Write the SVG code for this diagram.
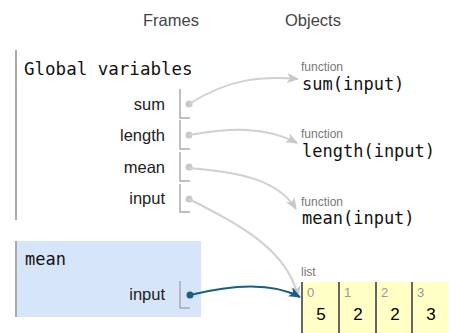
<svg xmlns="http://www.w3.org/2000/svg" width="451" height="333" viewBox="0 0 451 333">
<style>
.hdr{font-family:"Liberation Sans",Arial,sans-serif;font-size:16.5px;fill:#444}
.mono{font-family:"DejaVu Sans Mono",monospace;font-size:17px;fill:#111}
.var{font-family:"Liberation Sans",Arial,sans-serif;font-size:16.5px;fill:#222;text-anchor:end}
.small{font-family:"Liberation Sans",Arial,sans-serif;font-size:12px;fill:#777}
.idx{font-family:"Liberation Sans",Arial,sans-serif;font-size:13px;fill:#999}
.val{font-family:"Liberation Sans",Arial,sans-serif;font-size:17px;fill:#000;text-anchor:middle}
.box{fill:none;stroke:#aaa;stroke-width:1.5}
.flb{stroke:#aaa;stroke-width:2}
.dot{fill:#c8c8c8}
.gl{fill:none;stroke:#d0d0d0;stroke-width:2}
.bl{fill:none;stroke:#1a5e85;stroke-width:2}
.cell{fill:#ffffc6}
.cb{stroke:#666;stroke-width:2}
</style>
<defs>
<marker id="ag" markerWidth="12" markerHeight="10" refX="11" refY="5" orient="auto" markerUnits="userSpaceOnUse">
<path d="M0,0 L12,5 L0,10 L3,5 z" fill="#c8c8c8"/>
</marker>
<marker id="ab" markerWidth="12" markerHeight="10" refX="11" refY="5" orient="auto" markerUnits="userSpaceOnUse">
<path d="M0,0 L12,5 L0,10 L3,5 z" fill="#1a5e85"/>
</marker>
</defs>
<text class="hdr" x="143" y="26">Frames</text>
<text class="hdr" x="285" y="26">Objects</text>

<g id="global-frame">
<line class="flb" x1="16" y1="50" x2="16" y2="220"/>
<text class="mono" x="24" y="75" style="font-size:17.5px">Global variables</text>
<text class="var" x="165" y="110">sum</text>
<path class="box" d="M180,89 V118 H190"/>
<circle class="dot" cx="189" cy="104" r="3.5"/>
<text class="var" x="165" y="141">length</text>
<path class="box" d="M180,120 V149 H190"/>
<circle class="dot" cx="189" cy="135" r="3.5"/>
<text class="var" x="165" y="173">mean</text>
<path class="box" d="M180,152 V181 H190"/>
<circle class="dot" cx="189" cy="167" r="3.5"/>
<text class="var" x="165" y="204">input</text>
<path class="box" d="M180,184 V212 H190"/>
<circle class="dot" cx="189" cy="199" r="3.5"/>
</g>

<g id="mean-frame">
<rect x="16" y="241" width="185" height="76" fill="#d6e5f9"/>
<line class="flb" x1="16" y1="241" x2="16" y2="317"/>
<text class="mono" x="25" y="265">mean</text>
<text class="var" x="165" y="300">input</text>
<path class="box" d="M180,281 V308 H190"/>
<circle cx="190" cy="295" r="3.5" fill="#1a5e85"/>
</g>

<g id="func-sum">
<text class="small" x="301" y="71">function</text>
<text class="mono" x="302" y="90">sum(input)</text>
</g>
<g id="func-length">
<text class="small" x="301" y="138">function</text>
<text class="mono" x="302" y="157">length(input)</text>
</g>
<g id="func-mean">
<text class="small" x="301" y="206">function</text>
<text class="mono" x="302" y="224">mean(input)</text>
</g>

<g id="list">
<text class="small" x="301" y="276">list</text>
<rect class="cell" x="302" y="282" width="146" height="51"/>
<line class="cb" x1="302" y1="282" x2="302" y2="333"/>
<line class="cb" x1="339" y1="282" x2="339" y2="333"/>
<line class="cb" x1="376" y1="282" x2="376" y2="333"/>
<line class="cb" x1="412" y1="282" x2="412" y2="333"/>
<text class="idx" x="307" y="297">0</text>
<text class="idx" x="344" y="297">1</text>
<text class="idx" x="381" y="297">2</text>
<text class="idx" x="417" y="297">3</text>
<text class="val" x="321" y="320">5</text>
<text class="val" x="358" y="320">2</text>
<text class="val" x="395" y="320">2</text>
<text class="val" x="431" y="320">3</text>
</g>

<g id="connectors">
<path class="gl" d="M189,104 C230,78 262,76 298,79" marker-end="url(#ag)"/>
<path class="gl" d="M189,135 C230,128 265,126 297,143" marker-end="url(#ag)"/>
<path class="gl" d="M189,168 C240,172 278,180 296,209" marker-end="url(#ag)"/>
<path class="gl" d="M189,199 C240,225 288,250 298,297" marker-end="url(#ag)"/>
<path class="bl" d="M190,295 C230,285 272,282 300,297" marker-end="url(#ab)"/>
</g>
</svg>
